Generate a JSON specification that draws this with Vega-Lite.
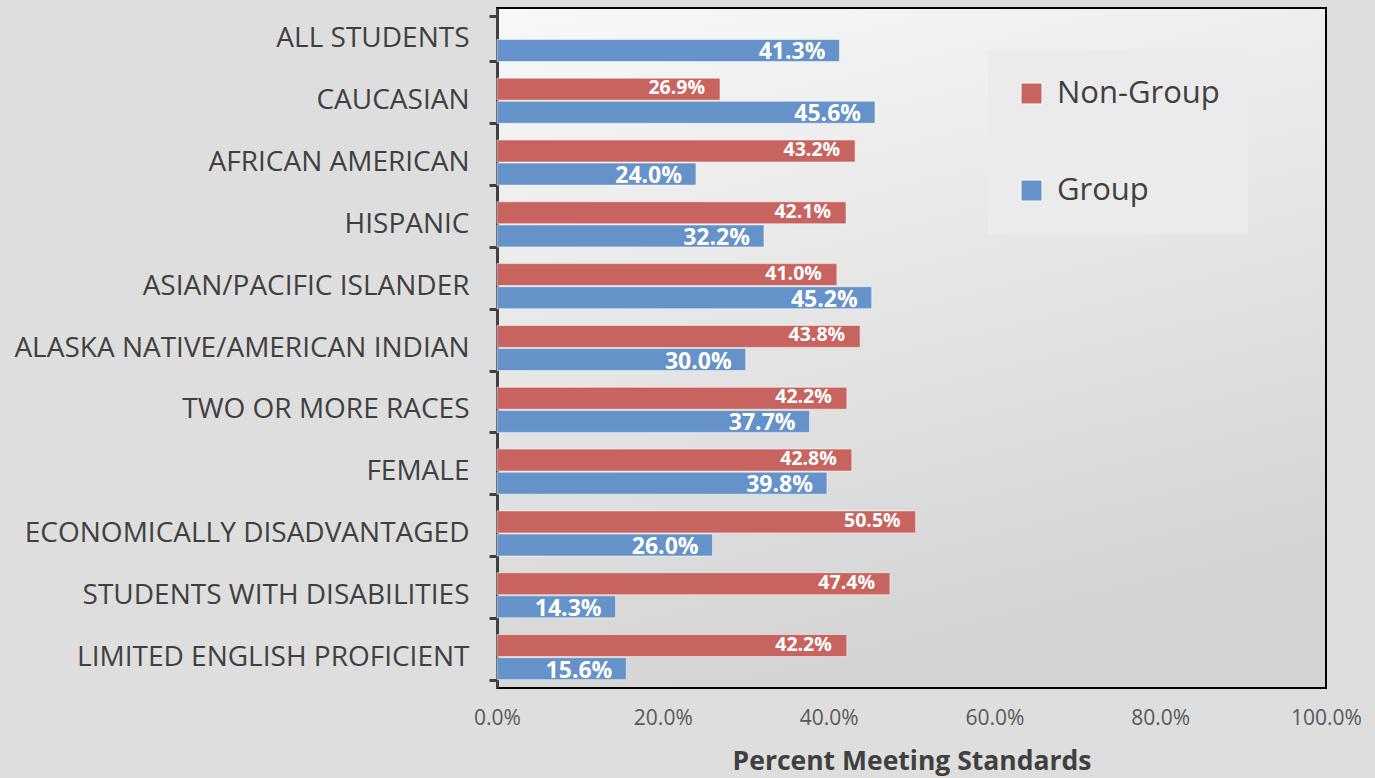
{
  "$schema": "https://vega.github.io/schema/vega-lite/v6.json",
  "width": 829,
  "height": 680,
  "autosize": {"type": "none"},
  "padding": {"left": 497, "top": 8, "right": 49, "bottom": 90},
  "background": "#dedede",
  "data": {
    "values": [
      {"cat": "ALL STUDENTS", "series": "Group", "pct": 0.413},
      {"cat": "CAUCASIAN", "series": "Non-Group", "pct": 0.269},
      {"cat": "CAUCASIAN", "series": "Group", "pct": 0.456},
      {"cat": "AFRICAN AMERICAN", "series": "Non-Group", "pct": 0.432},
      {"cat": "AFRICAN AMERICAN", "series": "Group", "pct": 0.240},
      {"cat": "HISPANIC", "series": "Non-Group", "pct": 0.421},
      {"cat": "HISPANIC", "series": "Group", "pct": 0.322},
      {"cat": "ASIAN/PACIFIC ISLANDER", "series": "Non-Group", "pct": 0.410},
      {"cat": "ASIAN/PACIFIC ISLANDER", "series": "Group", "pct": 0.452},
      {"cat": "ALASKA NATIVE/AMERICAN INDIAN", "series": "Non-Group", "pct": 0.438},
      {"cat": "ALASKA NATIVE/AMERICAN INDIAN", "series": "Group", "pct": 0.300},
      {"cat": "TWO OR MORE RACES", "series": "Non-Group", "pct": 0.422},
      {"cat": "TWO OR MORE RACES", "series": "Group", "pct": 0.377},
      {"cat": "FEMALE", "series": "Non-Group", "pct": 0.428},
      {"cat": "FEMALE", "series": "Group", "pct": 0.398},
      {"cat": "ECONOMICALLY DISADVANTAGED", "series": "Non-Group", "pct": 0.505},
      {"cat": "ECONOMICALLY DISADVANTAGED", "series": "Group", "pct": 0.260},
      {"cat": "STUDENTS WITH DISABILITIES", "series": "Non-Group", "pct": 0.474},
      {"cat": "STUDENTS WITH DISABILITIES", "series": "Group", "pct": 0.143},
      {"cat": "LIMITED ENGLISH PROFICIENT", "series": "Non-Group", "pct": 0.422},
      {"cat": "LIMITED ENGLISH PROFICIENT", "series": "Group", "pct": 0.156}
    ]
  },
  "encoding": {
    "y": {
      "field": "cat",
      "type": "nominal",
      "sort": null,
      "scale": {"paddingInner": 0.27, "paddingOuter": 0.135},
      "axis": {
        "title": null,
        "labelFontSize": 28,
        "labelColor": "#404040",
        "labelFont": "Open Sans",
        "labelPadding": 20,
        "labelLimit": 600,
        "domainColor": "#404040",
        "domainWidth": 3,
        "tickColor": "#404040",
        "tickWidth": 3,
        "tickSize": 8,
        "tickBand": "extent"
      }
    },
    "yOffset": {
      "field": "series",
      "type": "nominal",
      "scale": {"domain": ["Non-Group", "Group"], "paddingInner": 0.05}
    },
    "x": {
      "field": "pct",
      "type": "quantitative",
      "scale": {"domain": [0, 1], "nice": false},
      "axis": {
        "title": "Percent Meeting Standards",
        "format": ".1%",
        "values": [0, 0.2, 0.4, 0.6, 0.8, 1],
        "grid": false,
        "domain": false,
        "ticks": false,
        "labelFlush": false,
        "labelFontSize": 21,
        "labelColor": "#595959",
        "labelFont": "Open Sans",
        "labelPadding": 19,
        "titleFontSize": 26.5,
        "titleFont": "Open Sans",
        "titleFontWeight": "bold",
        "titleColor": "#404040",
        "titlePadding": 20
      }
    }
  },
  "layer": [
    {
      "mark": {"type": "bar", "stroke": "#ffffff", "strokeOpacity": 0.5, "strokeWidth": 1},
      "encoding": {
        "color": {
          "field": "series",
          "type": "nominal",
          "scale": {"domain": ["Non-Group", "Group"], "range": ["#c8645f", "#6592c8"]},
          "legend": {
            "title": null,
            "orient": "none",
            "legendX": 491,
            "legendY": 42,
            "symbolType": "square",
            "symbolSize": 441,
            "symbolStrokeColor": "#ffffff",
            "symbolStrokeWidth": 1,
            "labelFontSize": 31,
            "labelFont": "Open Sans",
            "labelColor": "#404040",
            "labelLimit": 400,
            "labelOffset": 10,
            "rowPadding": 65,
            "padding": 28,
            "fillColor": "#ebebeb"
          }
        }
      }
    },
    {
      "transform": [{"filter": "datum.series === 'Non-Group'"}],
      "mark": {"type": "text", "align": "right", "dx": -15, "dy": -1, "fontSize": 19.5, "fontWeight": "bold", "font": "Open Sans", "color": "#ffffff", "baseline": "middle"},
      "encoding": {
        "text": {"field": "pct", "type": "quantitative", "format": ".1%"}
      }
    },
    {
      "transform": [{"filter": "datum.series === 'Group'"}],
      "mark": {"type": "text", "align": "right", "dx": -14, "dy": 2, "fontSize": 23, "fontWeight": "bold", "font": "Open Sans", "color": "#ffffff", "baseline": "middle"},
      "encoding": {
        "text": {"field": "pct", "type": "quantitative", "format": ".1%"}
      }
    }
  ],
  "config": {
    "view": {
      "fill": {
        "gradient": "linear",
        "x1": 0, "y1": 0, "x2": 0.3, "y2": 1,
        "stops": [
          {"offset": 0, "color": "#f8f8f8"},
          {"offset": 1, "color": "#d4d4d4"}
        ]
      },
      "stroke": "#000000",
      "strokeWidth": 2
    }
  }
}
